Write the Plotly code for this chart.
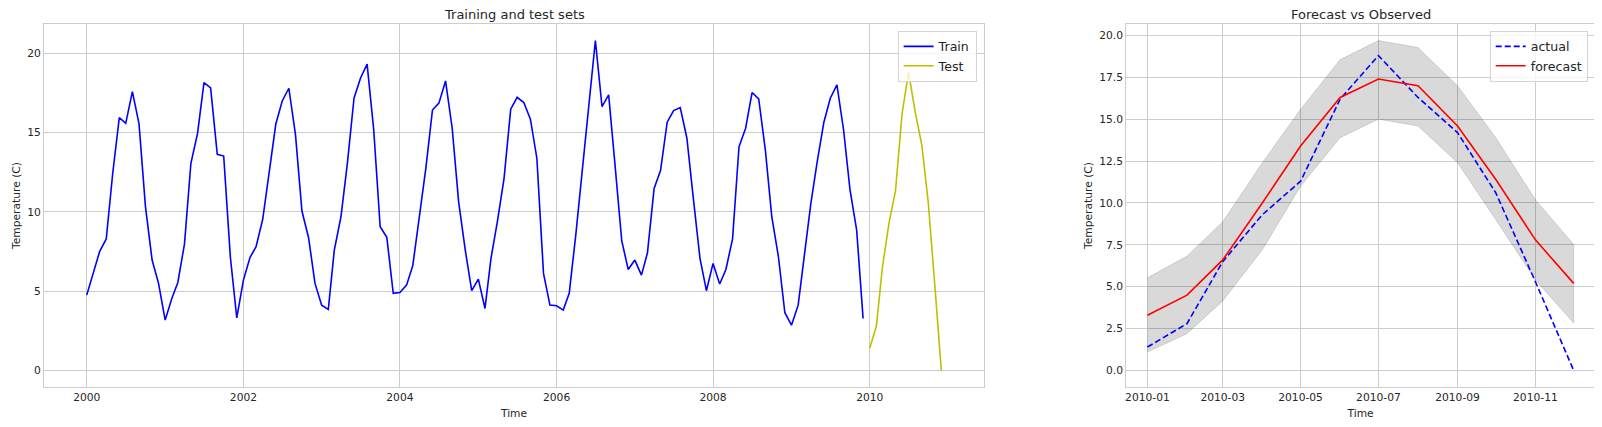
import pandas as pd
import plotly.graph_objects as go

# monthly temperatures
train_temp = [
    4.75, 6.1, 7.49, 8.29, 12.4, 15.94, 15.58, 17.58, 15.54, 10.33, 6.96, 5.49,
    3.18, 4.54, 5.55, 7.97, 13.06, 14.95, 18.15, 17.81, 13.63, 13.52, 7.17, 3.32,
    5.7, 7.13, 7.8, 9.53, 12.53, 15.52, 16.99, 17.79, 14.85, 10.05, 8.37, 5.49,
    4.12, 3.85, 7.59, 9.69, 13.06, 17.16, 18.42, 19.31, 15.16, 9.06, 8.39, 4.86,
    4.92, 5.38, 6.6, 9.9, 12.74, 16.42, 16.85, 18.25, 15.27, 10.64, 7.59, 5.03,
    5.76, 3.91, 7.07, 9.48, 12.11, 16.47, 17.22, 16.89, 15.84, 13.38, 6.12, 4.12,
    4.08, 3.81, 4.86, 8.6, 12.7, 16.8, 20.8, 16.63, 17.37, 12.9, 8.18, 6.37,
    6.96, 6.01, 7.42, 11.48, 12.6, 15.65, 16.38, 16.57, 14.64, 10.85, 7.07, 5.03,
    6.75, 5.45, 6.37, 8.3, 14.1, 15.27, 17.52, 17.12, 13.9, 9.7, 7.17, 3.64,
    2.86, 4.12, 7.2, 10.5, 13.17, 15.65, 17.16, 18.0, 15.16, 11.38, 8.85, 3.28,
]
test_temp = [1.4, 2.8, 6.5, 9.3, 11.3, 16.2, 18.8, 16.3, 14.2, 10.6, 5.3, 0.0]
forecast = [3.3, 4.5, 6.6, 10.0, 13.4, 16.3, 17.4, 17.0, 14.6, 11.4, 7.8, 5.2]
conf_lower = [1.1, 2.2, 4.15, 7.2, 11.0, 13.9, 15.0, 14.6, 12.4, 9.0, 5.4, 2.83]
conf_upper = [5.53, 6.83, 8.88, 12.4, 15.6, 18.56, 19.7, 19.28, 17.0, 13.9, 10.2, 7.52]

train_dates = pd.date_range("2000-01-01", periods=len(train_temp), freq="MS")
test_dates = pd.date_range("2010-01-01", periods=len(test_temp), freq="MS")

TXT = "#262626"
GRID = "#cccccc"
FONT = "DejaVu Sans"


def pad_range(lo, hi, frac=0.05):
    # matplotlib-style autoscale margins
    d = (hi - lo) * frac
    return [lo - d, hi + d]


fig = go.Figure()

# left panel
fig.add_trace(go.Scatter(x=train_dates, y=train_temp, mode="lines", name="Train",
                         line=dict(color="#0000ff", width=1.6), legend="legend"))
fig.add_trace(go.Scatter(x=test_dates, y=test_temp, mode="lines", name="Test",
                         line=dict(color="#bfbf00", width=1.6), legend="legend"))

# right panel: confidence band as a closed polygon
band_x = list(test_dates) + list(test_dates[::-1])
band_y = conf_upper + conf_lower[::-1]
fig.add_trace(go.Scatter(x=band_x, y=band_y, mode="lines", fill="toself",
                         fillcolor="rgba(0,0,0,0.15)",
                         line=dict(color="rgba(0,0,0,0.12)", width=1),
                         showlegend=False, hoverinfo="skip",
                         xaxis="x2", yaxis="y2"))
fig.add_trace(go.Scatter(x=test_dates, y=test_temp, mode="lines", name="actual",
                         line=dict(color="#0000ff", width=1.6, dash="6px,3px"),
                         xaxis="x2", yaxis="y2", legend="legend2"))
fig.add_trace(go.Scatter(x=test_dates, y=forecast, mode="lines", name="forecast",
                         line=dict(color="#ff0000", width=1.6),
                         xaxis="x2", yaxis="y2", legend="legend2"))

all_dates = list(train_dates) + list(test_dates)
span = all_dates[-1] - all_dates[0]
x1_range = [all_dates[0] - span * 0.05, all_dates[-1] + span * 0.05]
span2 = test_dates[-1] - test_dates[0]
x2_range = [test_dates[0] - span2 * 0.05, test_dates[-1] + span2 * 0.05]
y1_range = pad_range(min(train_temp + test_temp), max(train_temp + test_temp))
y2_range = pad_range(min(test_temp + conf_lower), max(test_temp + conf_upper))

axis_common = dict(showgrid=True, gridcolor=GRID, gridwidth=1, showline=True,
                   linecolor=GRID, linewidth=1, mirror=True, zeroline=False,
                   ticks="", tickfont=dict(size=10.7, color=TXT, family=FONT),
                   title_font=dict(size=10.7, color=TXT, family=FONT))

legend_common = dict(font=dict(size=12.6, color=TXT, family=FONT),
                     bgcolor="rgba(255,255,255,0.8)", bordercolor="#d5d5d5",
                     borderwidth=1, xanchor="right", yanchor="top",
                     tracegroupgap=0)

# the page body adds an 8px offset, so the figure is 8px smaller each way
fig.update_layout(
    width=1594, height=419,
    margin=dict(l=36, r=7, t=16, b=40),
    paper_bgcolor="white", plot_bgcolor="white",
    font=dict(family=FONT, color=TXT),
    xaxis=dict(domain=[0, 0.6061], range=x1_range, dtick="M24",
               tick0="2000-01-01", tickformat="%Y",
               title=dict(text="Time", standoff=6), **axis_common),
    yaxis=dict(range=y1_range, dtick=5, tick0=0,
               title=dict(text="Temperature (C)", standoff=4), **axis_common),
    xaxis2=dict(domain=[0.6977, 1], range=x2_range, dtick="M2",
                tick0="2010-01-01", tickformat="%Y-%m", anchor="y2",
                title=dict(text="Time", standoff=6), **axis_common),
    yaxis2=dict(range=y2_range, dtick=2.5, tick0=0, tickformat=".1f",
                anchor="x2", title=dict(text="Temperature (C)", standoff=4),
                **axis_common),
    legend=dict(x=0.6013, y=0.9815, **legend_common),
    legend2=dict(x=0.9953, y=0.9815, **legend_common),
    annotations=[
        dict(text="Training and test sets", x=0.6061 / 2, y=1.0275,
             xref="paper", yref="paper", showarrow=False,
             xanchor="center", yanchor="middle",
             font=dict(size=13, color=TXT, family=FONT)),
        dict(text="Forecast vs Observed", x=(0.6977 + 1) / 2, y=1.0275,
             xref="paper", yref="paper", showarrow=False,
             xanchor="center", yanchor="middle",
             font=dict(size=13, color=TXT, family=FONT)),
    ],
    showlegend=True,
)

fig.write_html("out.html")
